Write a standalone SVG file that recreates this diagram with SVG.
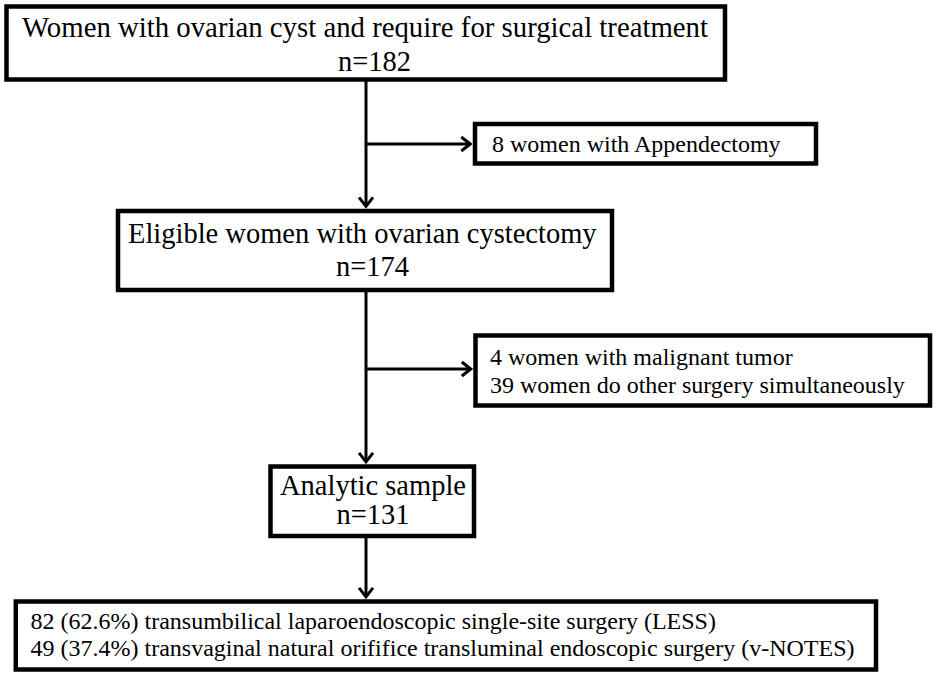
<svg xmlns="http://www.w3.org/2000/svg" width="935" height="677" viewBox="0 0 935 677">
<style>
  .box { fill: #ffffff; stroke: #000000; stroke-width: 4.5; }
  .big { font-family: "Liberation Serif", "Times New Roman", serif; font-size: 28.5px; fill: #000000; }
  .small { font-family: "Liberation Serif", "Times New Roman", serif; font-size: 24px; fill: #000000; }
  .conn { fill: none; stroke: #000000; stroke-width: 3; }
</style>
<defs>
  <marker id="arrow" markerUnits="userSpaceOnUse" viewBox="-12 -9 16 18" markerWidth="16" markerHeight="18" refX="0" refY="0" orient="auto">
    <path d="M-9,-7 L0,0 L-9,7" fill="none" stroke="#000000" stroke-width="3" stroke-linejoin="miter"/>
  </marker>
</defs>
<rect x="0" y="0" width="935" height="677" fill="#ffffff"/>

<g id="connectors">
  <line class="conn" x1="366" y1="80" x2="366" y2="206.3" marker-end="url(#arrow)"/>
  <line class="conn" x1="366" y1="144" x2="470.3" y2="144" marker-end="url(#arrow)"/>
  <line class="conn" x1="366" y1="290" x2="366" y2="461.8" marker-end="url(#arrow)"/>
  <line class="conn" x1="366" y1="369" x2="470.8" y2="369" marker-end="url(#arrow)"/>
  <line class="conn" x1="366" y1="536" x2="366" y2="596.8" marker-end="url(#arrow)"/>
</g>

<g id="node-total">
  <rect class="box" x="6.5" y="6.5" width="718.5" height="73"/>
  <text class="big" x="22" y="37" textLength="686" lengthAdjust="spacingAndGlyphs">Women with ovarian cyst and require for surgical treatment</text>
  <text class="big" x="338" y="71">n=182</text>
</g>

<g id="node-appendectomy">
  <rect class="box" x="475" y="124" width="341" height="39.5"/>
  <text class="small" x="492" y="152">8 women with Appendectomy</text>
</g>

<g id="node-eligible">
  <rect class="box" x="118" y="211" width="494" height="79"/>
  <text class="big" x="128" y="243">Eligible women with ovarian cystectomy</text>
  <text class="big" x="336" y="276">n=174</text>
</g>

<g id="node-excluded">
  <rect class="box" x="475.5" y="335.5" width="454.5" height="70"/>
  <text class="small" x="490" y="365">4 women with malignant tumor</text>
  <text class="small" x="490" y="393">39 women do other surgery simultaneously</text>
</g>

<g id="node-analytic">
  <rect class="box" x="270.5" y="466.5" width="203.5" height="69.5"/>
  <text class="big" x="280" y="495">Analytic sample</text>
  <text class="big" x="336.5" y="524">n=131</text>
</g>

<g id="node-groups">
  <rect class="box" x="15.8" y="601.5" width="860.2" height="68"/>
  <text class="small" x="30.5" y="629">82 (62.6%) transumbilical laparoendoscopic single-site surgery (LESS)</text>
  <text class="small" x="30.5" y="656">49 (37.4%) transvaginal natural orififice transluminal endoscopic surgery (v-NOTES)</text>
</g>
</svg>
